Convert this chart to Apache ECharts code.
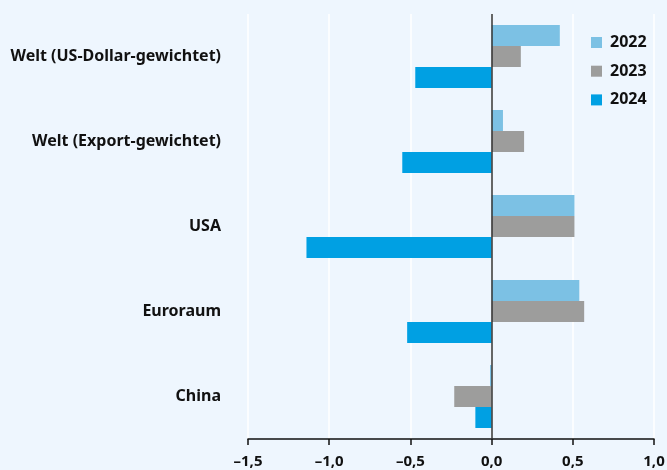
<!DOCTYPE html>
<html>
<head>
<meta charset="utf-8">
<script src="https://cdn.jsdelivr.net/npm/echarts@6/dist/echarts.min.js"></script>
<style>
  html, body { margin: 0; padding: 0; background: #eef6fe; }
  #chart { width: 667px; height: 470px; }
</style>
</head>
<body>
<div id="chart"></div>
<script>
var categories = ['Welt (US-Dollar-gewichtet)', 'Welt (Export-gewichtet)', 'USA', 'Euroraum', 'China'];
var years = ['2022', '2023', '2024'];
var values2022 = [0.42, 0.07, 0.51, 0.54, -0.01];
var values2023 = [0.18, 0.20, 0.51, 0.57, -0.23];
var values2024 = [-0.47, -0.55, -1.14, -0.52, -0.10];
var colors = ['#7cc1e4', '#9d9d9c', '#00a0e3'];

var font = '"Noto Sans", sans-serif';
var myChart = echarts.init(document.getElementById('chart'));

function fmt(v) {
  var s = Math.abs(v).toFixed(1).replace('.', ',');
  return v < 0 ? '\u2013' + s : s;
}

var seriesData = [values2022, values2023, values2024];
var series = years.map(function (y, i) {
  var s = {
    name: y,
    type: 'bar',
    data: seriesData[i],
    barWidth: 21,
    barGap: '0%',
    itemStyle: { color: colors[i] },
    emphasis: { disabled: true }
  };
  if (i === 0) {
    s.markLine = {
      silent: true,
      symbol: 'none',
      label: { show: false },
      lineStyle: { color: '#333', width: 1.5, type: 'solid' },
      data: [{ xAxis: 0 }],
      z: 10
    };
  }
  return s;
});

var option = {
  backgroundColor: '#eef6fe',
  animation: false,
  textStyle: { fontFamily: font },
  grid: { left: 248, right: 13, top: 14, bottom: 31, outerBoundsMode: 'none', containLabel: false },
  legend: {
    orient: 'vertical',
    left: 586,
    top: 28,
    itemWidth: 11,
    itemHeight: 11,
    itemGap: 9.7,
    icon: 'rect',
    data: years,
    textStyle: { fontFamily: font, fontSize: 16, lineHeight: 19, fontWeight: 'bold', color: '#111', padding: [0, 0, 0, 3] }
  },
  xAxis: {
    type: 'value',
    min: -1.5,
    max: 1.0,
    interval: 0.5,
    axisLine: { show: true, lineStyle: { color: '#111', width: 1.5 } },
    axisTick: { show: true, length: 6, lineStyle: { color: '#111', width: 1.5 } },
    splitLine: { show: true, lineStyle: { color: '#ffffff', width: 1.5 } },
    axisLabel: {
      formatter: fmt,
      margin: 15,
      fontFamily: font,
      fontSize: 15,
      fontWeight: 'bold',
      color: '#111'
    }
  },
  yAxis: {
    type: 'category',
    data: categories,
    inverse: true,
    axisLine: { show: false, onZero: false },
    axisTick: { show: false },
    axisLabel: {
      margin: 27,
      fontFamily: font,
      fontSize: 16,
      fontWeight: 'bold',
      color: '#111'
    }
  },
  series: series
};
myChart.setOption(option);
</script>
</body>
</html>
